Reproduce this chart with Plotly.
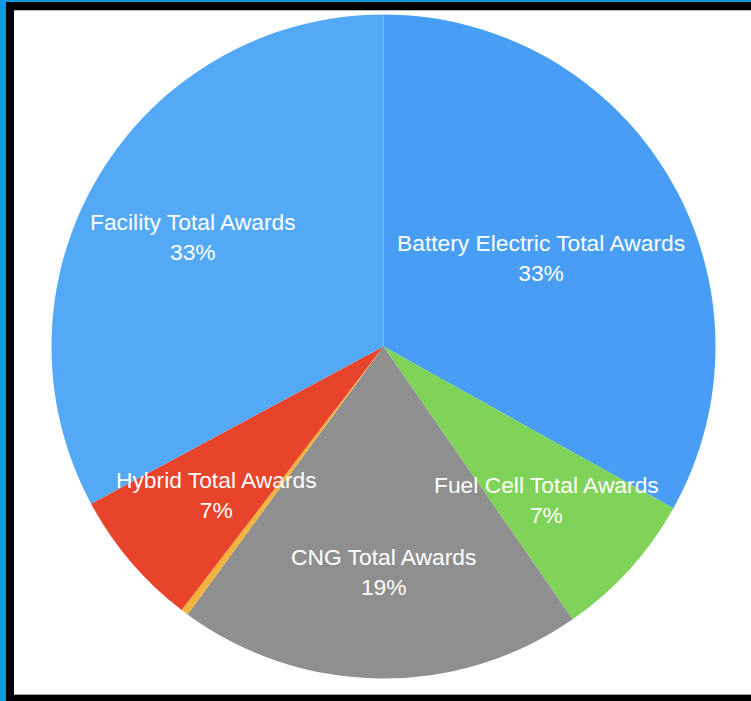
import plotly.graph_objects as go

W, H = 751, 701

labels = ["Battery Electric Total Awards", "Fuel Cell Total Awards", "CNG Total Awards",
          "Other Total Awards", "Hybrid Total Awards", "Facility Total Awards"]
values = [33.1, 7.25, 19.7, 0.35, 6.75, 32.85]
pct_text = ["33%", "7%", "19%", "", "7%", "33%"]
colors = ["#479EF4", "#7FD358", "#8F8F8F", "#F2B23C", "#E8432B", "#54A9F7"]

# label block centres (pixels from top-left)
label_pos = [(541, 258), (546, 500), (383, 572), None, (217, 495), (193, 237)]

cx, cy, r = 383.5, 346.5, 332

fig = go.Figure(go.Pie(
    labels=labels, values=values, sort=False, direction="clockwise", rotation=0,
    marker=dict(colors=colors, line=dict(width=0)),
    textinfo="none", hoverinfo="label+percent", showlegend=False,
    domain=dict(x=[(cx - r) / W, (cx + r) / W], y=[(H - cy - r) / H, (H - cy + r) / H]),
))

for lab, pct, pos in zip(labels, pct_text, label_pos):
    if pos is None:
        continue
    fig.add_annotation(x=pos[0] / W, y=1 - pos[1] / H, xref="paper", yref="paper",
                       text=f"{lab}<br>{pct}", showarrow=False, align="center",
                       xanchor="center", yanchor="middle",
                       font=dict(family="Liberation Sans, Arial, sans-serif", size=22.8, color="white"))

def rect(x0, y0, x1, y1, color):
    fig.add_shape(type="rect", xref="paper", yref="paper",
                  x0=x0 / W, x1=x1 / W, y0=1 - y1 / H, y1=1 - y0 / H,
                  fillcolor=color, line=dict(width=0), layer="above")

rect(0, 0, W, 2, "#0A9ADF")
rect(0, 0, 6, H, "#0A9ADF")
rect(6, 2, W, 10, "#000000")
rect(6, 2, 14, H, "#000000")
rect(6, 695, W, H, "#000000")
rect(14, 10, W, 11, "#BBBBBB")
rect(14, 694, W, 695, "#AAAAAA")

fig.update_layout(width=W, height=H, margin=dict(l=0, r=0, t=0, b=0),
                  paper_bgcolor="white", plot_bgcolor="white")

fig.write_html("out.html", config={"displayModeBar": False},
               post_script="document.body.style.margin='0';document.body.style.overflow='hidden';")
